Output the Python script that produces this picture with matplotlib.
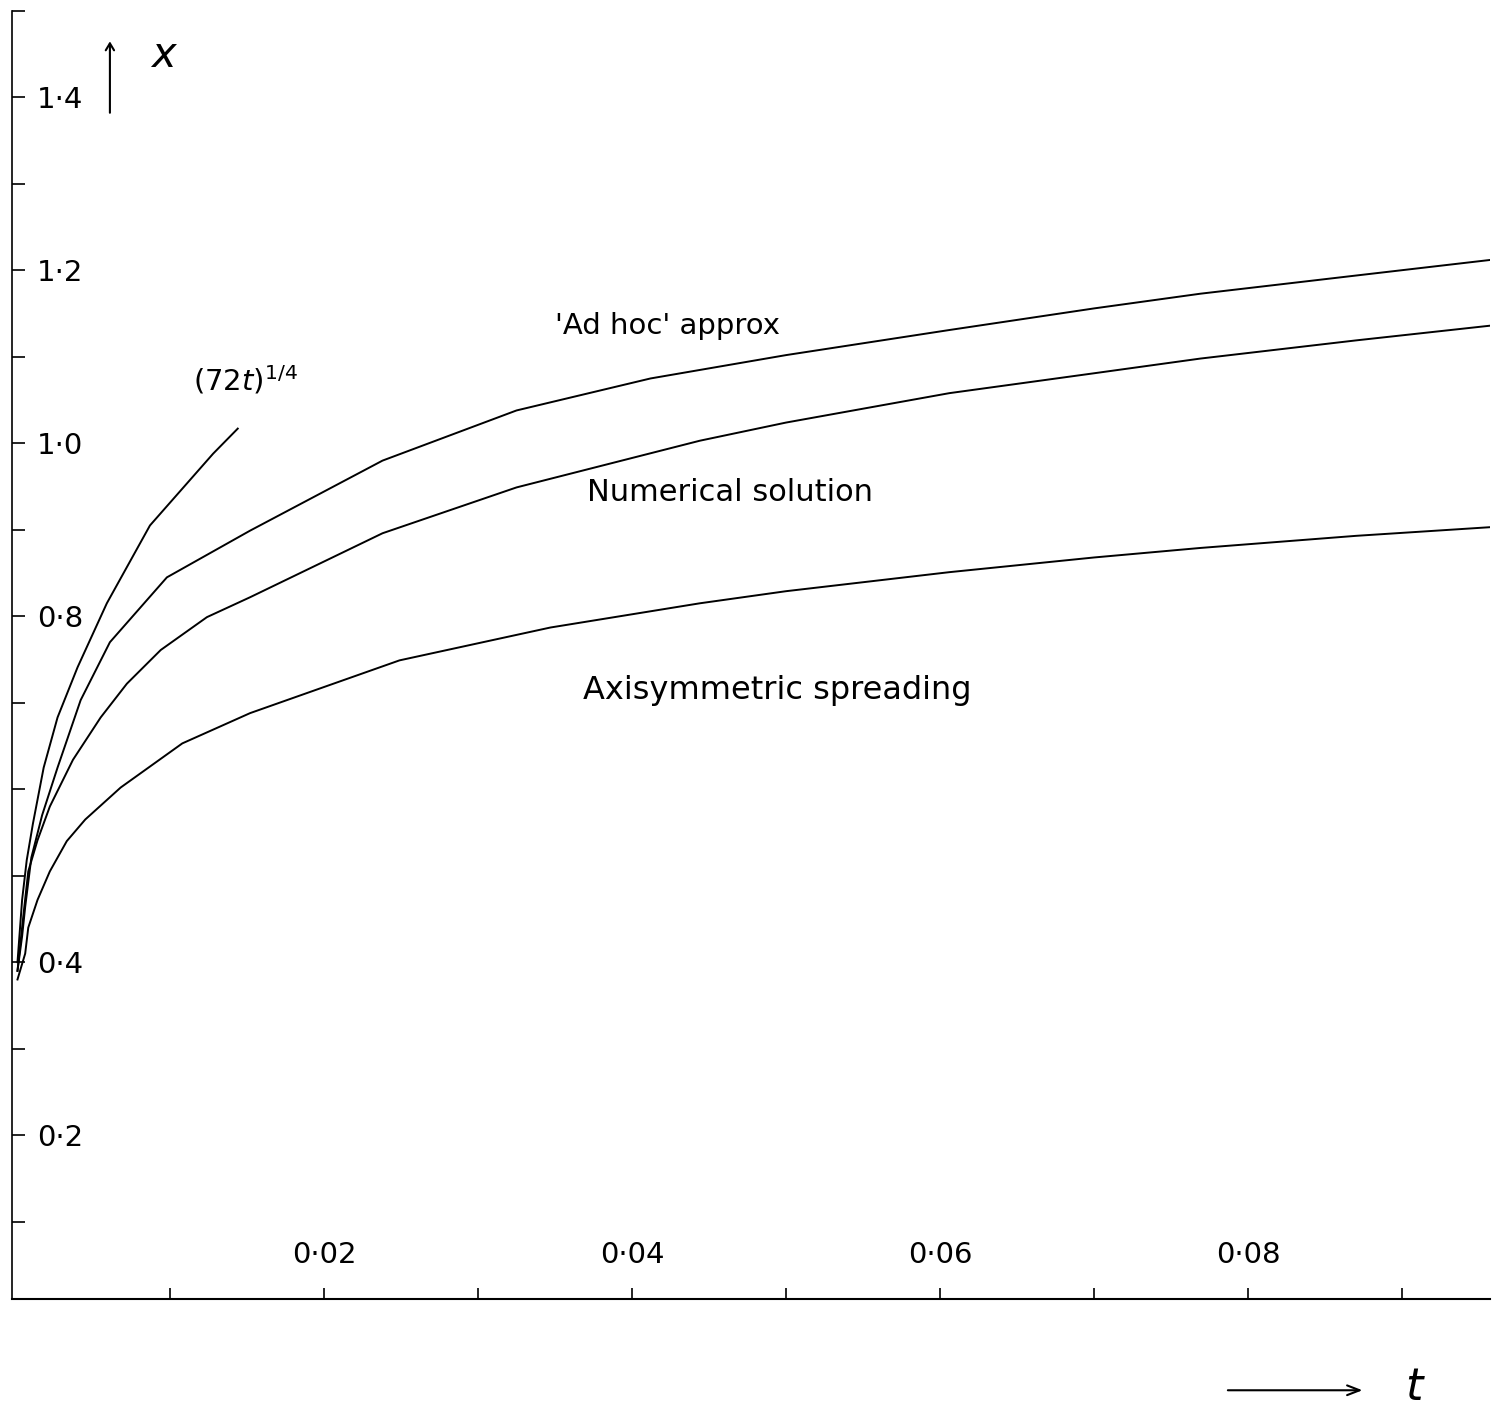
import matplotlib.pyplot as plt
from matplotlib.ticker import FixedLocator

# values (t, x)
t_adhoc = [0.0001, 0.0004, 0.0006, 0.0010, 0.0017, 0.0027, 0.0042, 0.0061, 0.0098,
           0.0152, 0.0238, 0.0325, 0.0412, 0.0500, 0.0606, 0.0700, 0.0769, 0.0870, 0.0957]
x_adhoc = [0.39, 0.43, 0.464, 0.521, 0.570, 0.625, 0.703, 0.770, 0.845,
           0.899, 0.980, 1.038, 1.075, 1.102, 1.131, 1.156, 1.173, 1.194, 1.212]

t_num = [0.0001, 0.0005, 0.0008, 0.0014, 0.0022, 0.0037, 0.0055, 0.0072, 0.0094,
         0.0124, 0.0152, 0.0238, 0.0325, 0.0444, 0.0500, 0.0606, 0.0700, 0.0769,
         0.0870, 0.0957]
x_num = [0.39, 0.457, 0.505, 0.541, 0.580, 0.634, 0.683, 0.722, 0.761,
         0.799, 0.822, 0.896, 0.949, 1.003, 1.024, 1.058, 1.081, 1.098,
         1.119, 1.136]

t_axi = [0.0001, 0.0006, 0.0008, 0.0014, 0.0022, 0.0033, 0.0045, 0.0068, 0.0108,
         0.0152, 0.0249, 0.0347, 0.0444, 0.0500, 0.0606, 0.0700, 0.0769, 0.0870, 0.0957]
x_axi = [0.38, 0.41, 0.440, 0.472, 0.505, 0.540, 0.565, 0.602, 0.653,
         0.688, 0.749, 0.787, 0.815, 0.829, 0.851, 0.868, 0.879, 0.893, 0.903]

t_72 = [0.0001, 0.0004, 0.0007, 0.0011, 0.0018, 0.0027, 0.0040, 0.0059, 0.0087,
        0.0128, 0.0144]
x_72 = [0.40, 0.472, 0.518, 0.560, 0.625, 0.683, 0.741, 0.815, 0.905,
        0.988, 1.017]

y_ticks = [0.2, 0.4, 0.6, 0.8, 1.0, 1.2, 1.4]
y_labels = ['0·2', '0·4', '', '0·8', '1·0', '1·2', '1·4']
x_ticks = [0.02, 0.04, 0.06, 0.08]
x_labels = ['0·02', '0·04', '0·06', '0·08']

fig = plt.figure(figsize=(14.93, 14.16), dpi=100)
ax = fig.add_axes([0.008, 0.0823, 0.99, 0.910])

for t, x in [(t_72, x_72), (t_adhoc, x_adhoc), (t_num, x_num), (t_axi, x_axi)]:
    ax.plot(t, x, color='black', lw=1.4)

ax.set_xlim(-0.00026, 0.0957)
ax.set_ylim(0.01, 1.5)

ax.spines['top'].set_visible(False)
ax.spines['right'].set_visible(False)
ax.spines['left'].set_linewidth(1.2)
ax.spines['bottom'].set_linewidth(1.5)

ax.set_yticks(y_ticks)
ax.set_yticklabels(y_labels, ha='left')
ax.yaxis.set_minor_locator(FixedLocator([0.1, 0.3, 0.5, 0.7, 0.9, 1.1, 1.3, 1.5]))
ax.set_xticks(x_ticks)
ax.set_xticklabels(x_labels)
ax.xaxis.set_minor_locator(FixedLocator([0.01, 0.03, 0.05, 0.07, 0.09]))

ax.tick_params(axis='y', which='both', direction='in', length=9, width=1.2,
               pad=-18, labelsize=21)
ax.tick_params(axis='x', which='both', direction='in', length=8, width=1.2,
               pad=-42, labelsize=21)

ax.text(0.035, 1.136, "'Ad hoc' approx", fontsize=21, va='center')
ax.text(0.0115, 1.073, r'$(72t)^{1/4}$', fontsize=21, va='center')
ax.text(0.0371, 0.943, 'Numerical solution', fontsize=22, va='center')
ax.text(0.0368, 0.714, 'Axisymmetric spreading', fontsize=23, va='center')

# axis names drawn as arrows, like the sketch
ax.annotate('', xy=(0.0061, 1.468), xytext=(0.0061, 1.379),
            arrowprops=dict(arrowstyle='->,head_length=0.5,head_width=0.3',
                            lw=1.5, color='black'))
ax.text(0.0087, 1.449, r'$x$', fontsize=30, va='center')
ax.annotate('', xy=(0.0876, -0.095), xytext=(0.0785, -0.095),
            arrowprops=dict(arrowstyle='->,head_length=0.9,head_width=0.35',
                            lw=1.5, color='black'),
            annotation_clip=False)
ax.text(0.0902, -0.092, r'$t$', fontsize=32, va='center', clip_on=False)

fig.savefig('out.png', dpi=100)
